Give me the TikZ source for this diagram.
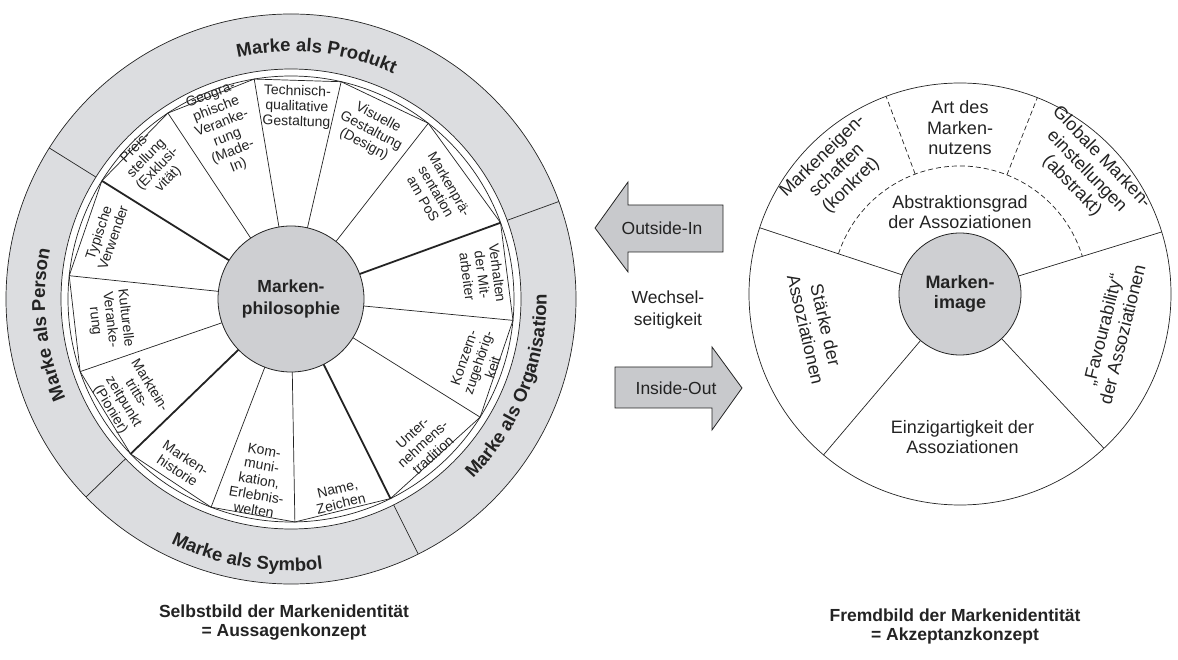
\documentclass[tikz,border=0pt]{standalone}
\usepackage{fontspec}
\setmainfont{Liberation Sans}
\usetikzlibrary{decorations.text}

\definecolor{ringgrey}{RGB}{220,221,224}
\definecolor{hubgrey}{RGB}{206,207,210}
\definecolor{arrowgrey}{RGB}{200,201,204}
\definecolor{ink}{RGB}{35,35,35}

\begin{document}
\begin{tikzpicture}[x=1pt,y=1pt,
  sector/.style={font=\fontsize{14}{15.2}\selectfont, align=center, inner sep=0pt, text=ink},
  rsector/.style={font=\fontsize{18}{20.5}\selectfont, align=center, inner sep=0pt, text=ink},
  hub/.style={font=\bfseries\fontsize{17.5}{22}\selectfont, align=center, inner sep=0pt, text=ink},
  wline/.style={draw=ink, line width=0.7pt},
  wthick/.style={draw=ink, line width=1.8pt},
  capt/.style={font=\bfseries\fontsize{17.5}{19.5}\selectfont, align=center, inner sep=0pt, text=ink},
  plain/.style={font=\fontsize{17.5}{22}\selectfont, align=center, inner sep=0pt, text=ink},
  ringtext/.style={decorate, decoration={text along path, text align=center, text color=ink,
     text={|\bfseries\fontsize{18.5}{20}\selectfont|#1}}},
  bigarrow/.style={fill=arrowgrey, draw=ink, line width=0.8pt, line join=miter},
]
\useasboundingbox (0,0) rectangle (1178,659);

% ---------------- left wheel ----------------
\coordinate (L) at (291,360);
\begin{scope}[shift={(291,360)}]
  \fill[ringgrey] (0,0) circle (285);
  \fill[white] (0,0) circle (230);
  \draw[wline] (0,0) circle (285);
  \draw[wline] (0,0) circle (230);
  \draw[wline] (0,0) circle (223);
  \foreach \a in {148,20,-63.5,-136} \draw[wline] (\a:230) -- (\a:285);
  \draw[wline] (148:223) -- (123.5:223) -- (99.5:223) -- (77:223) -- (52:223) -- (20:223)
     -- (-5.5:223) -- (-32:223) -- (-63.5:223) -- (-89:223) -- (-111:223) -- (-136:223)
     -- (-161:223) -- (-186:223) -- cycle;
  \foreach \a in {123.5,99.5,77,52,-5.5,-32,-89,-111,-161,-186} \draw[wline] (\a:73) -- (\a:223);
  \foreach \a in {148,20,-63.5,-136} \draw[wthick] (\a:73) -- (\a:223);
  \filldraw[fill=hubgrey, draw=ink, line width=0.8pt] (0,0) circle (73);
  \node[hub] (phil) at (0,0) {Marken-\\philosophie};

  % ring labels
  \path[ringtext={Marke als Produkt}] (148:247.5) arc[start angle=148, end angle=20, radius=247.5];
  \path[ringtext={Marke als Person}] (224:246) arc[start angle=224, end angle=148, radius=246];
  \path[ringtext={Marke als Organisation}] (-63.5:255.5) arc[start angle=-63.5, end angle=20, radius=255.5];
  \path[ringtext={Marke als Symbol}] (-136:272) arc[start angle=-136, end angle=-63.5, radius=272];

  % sector labels
  \node[sector, rotate=45.75]  (s1)  at (135.75:194) {Preis-\\stellung\\(Exklusi-\\vität)};
  \node[sector, rotate=21.5]   (s2)  at (111.5:181)  {Geogra-\\phische\\Veranke-\\rung\\(Made-\\In)};
  \node[sector, rotate=-1.75]  (s3)  at (88.25:192)  {Technisch-\\qualitative\\Gestaltung};
  \node[sector, rotate=-28]    (s4)  at (64.5:186)   {Visuelle\\Gestaltung\\(Design)};
  \node[sector, rotate=-60]    (s5)  at (36.5:181)   {Markenprä-\\sentation\\am PoS};
  \node[sector, rotate=-82.75] (s6)  at (7.25:193)   {Verhalten\\der Mit-\\arbeiter};
  \node[sector, rotate=71.25]  (s7)  at (-18.75:198) {Konzern-\\zugehörig-\\keit};
  \node[sector, rotate=42.25]  (s8)  at (-47.75:196) {Unter-\\nehmens-\\tradition};
  \node[sector, rotate=13.75]  (s9)  at (-76.25:203) {Name,\\Zeichen};
  \node[sector, rotate=-10]    (s10) at (-100:184)   {Kom-\\muni-\\kation,\\Erlebnis-\\welten};
  \node[sector, rotate=-33.5]  (s11) at (-123.5:198) {Marken-\\historie};
  \node[sector, rotate=-58.5]  (s12) at (-148.5:189) {Marktein-\\tritts-\\zeitpunkt\\(Pionier)};
  \node[sector, rotate=-83.5]  (s13) at (186.5:182)  {Kulturelle\\Veranke-\\rung};
  \node[sector, rotate=71]     (s14) at (161:196)    {Typische\\Verwender};
\end{scope}

% ---------------- right wheel ----------------
\coordinate (R) at (960,365);
\begin{scope}[shift={(960,365)}]
  \draw[wline] (0,0) circle (211);
  \foreach \a in {161.7,17.1,229.7,-47} \draw[wline] (\a:61) -- (\a:211);
  \draw[wline, dash pattern=on 5pt off 3pt] (161.7:128) arc[start angle=161.7, end angle=17.1, radius=128];
  \draw[wline, dash pattern=on 5pt off 3pt] (110.5:128) -- (110.5:211);
  \draw[wline, dash pattern=on 5pt off 3pt] (68.5:128) -- (68.5:211);
  \filldraw[fill=hubgrey, draw=ink, line width=0.8pt] (0,0) circle (61);
  \node[hub, font=\bfseries\fontsize{18}{20}\selectfont] (img) at (0,0) {Marken-\\image};

  \node[rsector] (r1) at (90:166) {Art des\\Marken-\\nutzens};
  \node[rsector] (r2) at (90:82) {Abstraktionsgrad\\der Assoziationen};
  \node[rsector, rotate=44] (r3) at (135:174) {Markeneigen-\\schaften\\(konkret)};
  \node[rsector, rotate=-46] (r4) at (44:176) {Globale Marken-\\einstellungen\\(abstrakt)};
  \node[rsector, rotate=-77] (r5) at (193:148) {Stärke der\\Assoziationen};
  \node[rsector, rotate=76] (r6) at (-14:157) {„Favourability“\\der Assoziationen};
  \node[rsector] (r7) at (-89:143) {Einzigartigkeit der\\Assoziationen};
\end{scope}

% ---------------- arrows ----------------
\draw[bigarrow] (595,431) -- (628,477) -- (628,454) -- (723,454) -- (723,407) -- (628,407) -- (628,387) -- cycle;
\node[plain] (oi) at (662,431) {Outside-In};
\draw[bigarrow] (742,271) -- (712,312) -- (712,292) -- (615,292) -- (615,251) -- (712,251) -- (712,229) -- cycle;
\node[plain] (io) at (676,271) {Inside-Out};
\node[plain] (ws) at (668,349) {Wechsel-\\seitigkeit};

% ---------------- captions ----------------
\node[capt] (c1) at (284,36.5) {Selbstbild der Markenidentität\\= Aussagenkonzept};
\node[capt] (c2) at (955,32.5) {Fremdbild der Markenidentität\\= Akzeptanzkonzept};
\end{tikzpicture}
\end{document}
